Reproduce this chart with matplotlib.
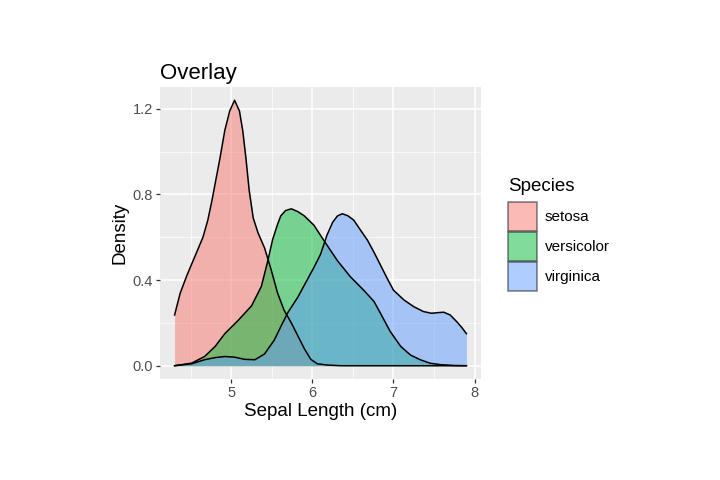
"""Overlaid density curves of iris sepal length by species (ggplot look)."""

import matplotlib
matplotlib.use("Agg")
import matplotlib.pyplot as plt
from matplotlib.patches import Patch
from matplotlib.ticker import MultipleLocator

plt.rcParams["font.family"] = ["Liberation Sans", "DejaVu Sans"]

# density curves
setosa_x = [4.30, 4.37, 4.45, 4.55, 4.65, 4.71, 4.76, 4.80, 4.86, 4.92, 4.98,
            5.04, 5.10, 5.14, 5.18, 5.22, 5.27, 5.33, 5.41, 5.49, 5.57, 5.65,
            5.74, 5.82, 5.90, 5.98, 6.06, 6.19, 6.35, 7.90]
setosa_y = [0.237, 0.34, 0.42, 0.51, 0.60, 0.68, 0.77, 0.85, 0.97, 1.10, 1.19,
            1.24, 1.19, 1.10, 0.97, 0.82, 0.69, 0.62, 0.55, 0.45, 0.34, 0.26,
            0.20, 0.14, 0.08, 0.03, 0.009, 0.003, 0.0, 0.0]

versicolor_x = [4.30, 4.51, 4.67, 4.80, 4.92, 5.08, 5.25, 5.37, 5.45, 5.51,
                5.57, 5.61, 5.67, 5.74, 5.82, 5.90, 6.02, 6.14, 6.31, 6.47,
                6.64, 6.76, 6.84, 6.96, 7.09, 7.21, 7.33, 7.45, 7.58, 7.75, 7.90]
versicolor_y = [0.0, 0.012, 0.043, 0.09, 0.15, 0.21, 0.28, 0.37, 0.49, 0.59,
                0.66, 0.70, 0.725, 0.733, 0.72, 0.70, 0.656, 0.586, 0.49, 0.415,
                0.35, 0.30, 0.245, 0.16, 0.09, 0.05, 0.028, 0.012, 0.005, 0.001, 0.0]

virginica_x = [4.30, 4.51, 4.67, 4.80, 4.92, 5.04, 5.16, 5.29, 5.41, 5.53,
               5.62, 5.70, 5.82, 5.92, 6.02, 6.10, 6.18, 6.25, 6.31, 6.37,
               6.44, 6.51, 6.60, 6.68, 6.76, 6.84, 6.92, 7.00, 7.13, 7.25,
               7.37, 7.47, 7.55, 7.62, 7.70, 7.78, 7.84, 7.90]
virginica_y = [0.0, 0.009, 0.028, 0.038, 0.043, 0.040, 0.030, 0.028, 0.055, 0.12,
               0.19, 0.25, 0.32, 0.39, 0.46, 0.52, 0.61, 0.67, 0.70, 0.71,
               0.70, 0.68, 0.63, 0.586, 0.53, 0.47, 0.41, 0.353, 0.307, 0.276,
               0.253, 0.245, 0.248, 0.25, 0.237, 0.206, 0.18, 0.15]

species = ["setosa", "versicolor", "virginica"]
colors = ["#F8766D", "#00BA38", "#619CFF"]
curves = [(setosa_x, setosa_y), (versicolor_x, versicolor_y), (virginica_x, virginica_y)]


def main() -> None:
    fig = plt.figure(figsize=(7.2, 4.8), dpi=100)
    ax = fig.add_axes([160 / 720, 101 / 480, 321 / 720, 292 / 480])
    ax.set_facecolor("#EBEBEB")

    for (xs, ys), col in zip(curves, colors):
        ax.fill_between(xs, ys, 0, color=col, alpha=0.5, linewidth=0, zorder=2)
        ax.plot(xs, ys, color="black", linewidth=1.1, zorder=3,
                solid_joinstyle="round")

    ax.set_xlim(4.12, 8.08)
    ax.set_ylim(-0.062, 1.302)
    ax.xaxis.set_major_locator(MultipleLocator(1))
    ax.xaxis.set_minor_locator(MultipleLocator(0.5))
    ax.yaxis.set_major_locator(MultipleLocator(0.4))
    ax.yaxis.set_minor_locator(MultipleLocator(0.2))
    ax.set_yticks([0.0, 0.4, 0.8, 1.2])
    ax.set_yticklabels(["0.0", "0.4", "0.8", "1.2"])
    ax.grid(which="major", color="white", linewidth=1.1, zorder=0)
    ax.grid(which="minor", color="white", linewidth=0.5, zorder=0)
    ax.set_axisbelow(True)
    for s in ax.spines.values():
        s.set_visible(False)
    ax.tick_params(which="major", length=3, width=0.9, color="#333333",
                   labelcolor="#4D4D4D", labelsize=10.5, pad=2)
    ax.tick_params(which="minor", length=0)

    ax.set_xlabel("Sepal Length (cm)", fontsize=13.5, labelpad=2)
    ax.set_ylabel("Density", fontsize=13.5, labelpad=3)
    ax.set_title("Overlay", fontsize=16, loc="left", pad=6)

    handles = [Patch(facecolor=c, alpha=0.5, edgecolor="black", linewidth=1.1)
               for c in colors]
    leg = ax.legend(handles, species, title="Species", loc="center left",
                    bbox_to_anchor=(1.065, 0.495), frameon=False, fontsize=11,
                    title_fontsize=13.5, handlelength=1.9, handleheight=2.55,
                    labelspacing=0.08, handletextpad=0.5, borderaxespad=0)
    leg._legend_box.align = "left"
    leg._legend_box.sep = 5

    fig.savefig("out.png")
    plt.close(fig)


if __name__ == "__main__":
    main()
